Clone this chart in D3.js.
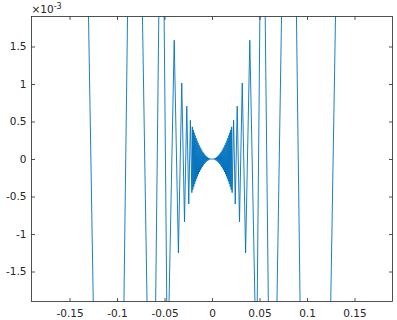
<!DOCTYPE html>
<html><head><meta charset="utf-8">
<script src="https://cdn.jsdelivr.net/npm/d3@7"></script>
<style>body{margin:0;background:#fff}svg{display:block}</style>
</head><body>
<svg id="chart" width="397" height="320"></svg>
<script>
// x values of the curve's vertices
const xVals = [
 -0.19, -0.15915, -0.1300, -0.1250, -0.10610, -0.0927, -0.0889, -0.07958, -0.0732, -0.0684,
 -0.06366, -0.0593, -0.0560, -0.05305, -0.0504, -0.0476, -0.04547, -0.03979, -0.03537, -0.03183,
 -0.02894, -0.02653, -0.02449, -0.02274,
 -0.0212, -0.0207, -0.0202, -0.0197, -0.0192, -0.0187, -0.0182, -0.0177, -0.0172, -0.0167,
 -0.0162, -0.0157, -0.0152, -0.0147, -0.0142, -0.0137, -0.0132, -0.0127, -0.0122, -0.0117,
 -0.0112, -0.0107, -0.0102, -0.0097, -0.0092, -0.0087, -0.0082, -0.0077, -0.0072, -0.0067,
 -0.0062, -0.0057, -0.0052, -0.0047, -0.0042, -0.0037, -0.0032, -0.0027, -0.0022, -0.0017,
 -0.0012, 0,
 0.0012, 0.0017, 0.0022, 0.0027, 0.0032, 0.0037, 0.0042, 0.0047, 0.0052, 0.0057,
 0.0062, 0.0067, 0.0072, 0.0077, 0.0082, 0.0087, 0.0092, 0.0097, 0.0102, 0.0107,
 0.0112, 0.0117, 0.0122, 0.0127, 0.0132, 0.0137, 0.0142, 0.0147, 0.0152, 0.0157,
 0.0162, 0.0167, 0.0172, 0.0177, 0.0182, 0.0187, 0.0192, 0.0197, 0.0202, 0.0207,
 0.0212,
 0.02274, 0.02449, 0.02653, 0.02894, 0.03183, 0.03537,
 0.03979, 0.04547, 0.0476, 0.0504, 0.05305, 0.0560, 0.0593, 0.06366, 0.0684, 0.0732,
 0.07958, 0.0889, 0.0927, 0.10610, 0.1250, 0.1300, 0.15915, 0.19
];
// y values (units of 1e-3)
const yVals = [
 18.9, 25.33, 1.9, -1.9, -11.26, -1.9, 1.9, 6.333, 1.9, -1.9,
 -4.053, -1.9, 1.9, 2.814, 1.9, -1.9, -2.068, 1.583, -1.251, 1.013,
 -0.837, 0.704, -0.600, 0.517,
 -0.449, 0.428, -0.408, 0.388, -0.369, 0.350, -0.331, 0.313, -0.296, 0.279,
 -0.262, 0.246, -0.231, 0.216, -0.202, 0.188, -0.174, 0.161, -0.149, 0.137,
 -0.125, 0.114, -0.104, 0.094, -0.085, 0.076, -0.067, 0.059, -0.052, 0.045,
 -0.038, 0.032, -0.027, 0.022, -0.018, 0.014, -0.010, 0.007, -0.005, 0.003,
 -0.001, 0,
 -0.001, 0.003, -0.005, 0.007, -0.010, 0.014, -0.018, 0.022, -0.027, 0.032,
 -0.038, 0.045, -0.052, 0.059, -0.067, 0.076, -0.085, 0.094, -0.104, 0.114,
 -0.125, 0.137, -0.149, 0.161, -0.174, 0.188, -0.202, 0.216, -0.231, 0.246,
 -0.262, 0.279, -0.296, 0.313, -0.331, 0.350, -0.369, 0.388, -0.408, 0.428,
 -0.449,
 0.517, -0.600, 0.704, -0.837, 1.013, -1.251,
 1.583, -2.068, -1.9, 1.9, 2.814, 1.9, -1.9, -4.053, -1.9, 1.9,
 6.333, 1.9, -1.9, -11.26, -1.9, 1.9, 25.33, 18.9
];
const xTicks = [-0.15, -0.1, -0.05, 0, 0.05, 0.1, 0.15];
const xTickLabels = ["-0.15", "-0.1", "-0.05", "0", "0.05", "0.1", "0.15"];
const yTicks = [-1.5, -1, -0.5, 0, 0.5, 1, 1.5];
const yTickLabels = ["-1.5", "-1", "-0.5", "0", "0.5", "1", "1.5"];
const xDomain = [-0.19, 0.19];
const yDomain = [-1.9, 1.9];

const L = 31.5, R = 392.5, T = 16.5, B = 301.5;
const axisColor = "#262626";
const font = "DejaVu Sans, sans-serif";
const svg = d3.select("#chart");
const x = d3.scaleLinear().domain(xDomain).range([L, R]);
const y = d3.scaleLinear().domain(yDomain).range([B, T]);

svg.append("defs").append("clipPath").attr("id", "clip")
  .append("rect").attr("x", L).attr("y", T).attr("width", R - L).attr("height", B - T);

const pts = xVals.map((v, i) => [v, yVals[i]]);
svg.append("path").datum(pts)
  .attr("clip-path", "url(#clip)")
  .attr("fill", "none").attr("stroke", "#0072BD").attr("stroke-width", 0.9)
  .attr("stroke-linejoin", "miter")
  .attr("d", d3.line().x(d => x(d[0])).y(d => y(d[1])));

function styleAxis(g) {
  g.select(".domain").remove();
  g.selectAll("line").attr("stroke", axisColor).attr("stroke-width", 0.8);
  g.selectAll("text").attr("fill", axisColor).attr("font-family", font).attr("font-size", 10.5);
}
// bottom axis
svg.append("g").attr("transform", `translate(0,${B})`)
  .call(d3.axisBottom(x).tickValues(xTicks).tickFormat((d, i) => xTickLabels[i]).tickSizeInner(-3.5).tickSizeOuter(0).tickPadding(8))
  .call(styleAxis);
// top axis ticks only
svg.append("g").attr("transform", `translate(0,${T})`)
  .call(d3.axisTop(x).tickValues(xTicks).tickFormat("").tickSizeInner(-3.5).tickSizeOuter(0))
  .call(styleAxis);
// left axis
svg.append("g").attr("transform", `translate(${L},0)`)
  .call(d3.axisLeft(y).tickValues(yTicks).tickFormat((d, i) => yTickLabels[i]).tickSizeInner(-3.5).tickSizeOuter(0).tickPadding(5))
  .call(styleAxis);
// right axis ticks only
svg.append("g").attr("transform", `translate(${R},0)`)
  .call(d3.axisRight(y).tickValues(yTicks).tickFormat("").tickSizeInner(-3.5).tickSizeOuter(0))
  .call(styleAxis);

// box
svg.append("rect").attr("x", L).attr("y", T).attr("width", R - L).attr("height", B - T)
  .attr("fill", "none").attr("stroke", axisColor).attr("stroke-width", 0.8);

// exponent label
const ex = svg.append("text").attr("x", L).attr("y", 13).attr("fill", axisColor)
  .attr("font-family", font).attr("font-size", 10.5);
ex.append("tspan").text("×10");
ex.append("tspan").attr("dy", -4).attr("font-size", 8).text("-3");
</script>
</body></html>
